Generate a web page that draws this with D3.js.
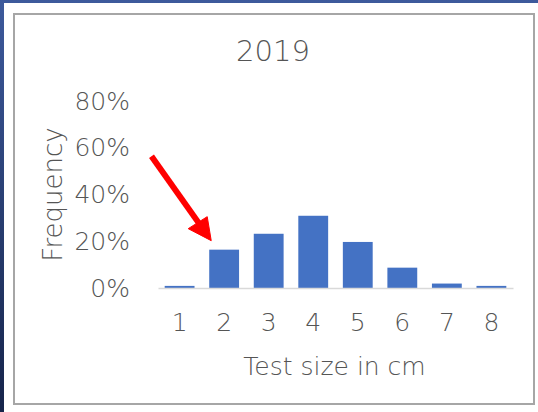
<!DOCTYPE html>
<html>
<head>
<meta charset="utf-8">
<script src="https://cdn.jsdelivr.net/npm/d3@7"></script>
<style>
	html, body { margin: 0; padding: 0; background: #2b4a8a; }
	svg { display: block; }
	text { font-family: 'DejaVu Sans', Lato, sans-serif; font-weight: 300; fill: #555; }
</style>
</head>
<body>
<div id="chart"></div>
<script>
const sizes = ['1', '2', '3', '4', '5', '6', '7', '8']
const frequency = [0.009, 0.164, 0.232, 0.309, 0.197, 0.087, 0.019, 0.009]
const yTicks = [0, 0.2, 0.4, 0.6, 0.8]
const title = '2019'

const width = 538
const height = 412
const margin = { top: 101, right: 25, bottom: 124, left: 158 }

const svg = d3.select('#chart')
	.append('svg')
	.attr('width', width)
	.attr('height', height)

// background picture edge + white plate
const defs = svg.append('defs')
const grad = defs.append('linearGradient')
	.attr('id', 'bg')
	.attr('x1', 0).attr('y1', 0).attr('x2', 0).attr('y2', 1)
grad.append('stop').attr('offset', '0%').attr('stop-color', '#3d5a9c')
grad.append('stop').attr('offset', '100%').attr('stop-color', '#16244a')

svg.append('rect')
	.attr('width', width)
	.attr('height', height)
	.attr('fill', 'url(#bg)')

svg.append('rect')
	.attr('x', 4)
	.attr('y', 3)
	.attr('width', width - 4)
	.attr('height', height - 3)
	.attr('fill', '#fff')

svg.append('rect')
	.attr('x', 14)
	.attr('y', 14)
	.attr('width', 520)
	.attr('height', 390)
	.attr('fill', 'none')
	.attr('stroke', '#a6a6a6')
	.attr('stroke-width', 2)

const chartWidth = width - margin.left - margin.right
const chartHeight = height - margin.top - margin.bottom

const x = d3.scaleBand()
	.domain(sizes)
	.range([margin.left, margin.left + chartWidth])
	.paddingInner(0.33)
	.paddingOuter(0.15)

const y = d3.scaleLinear()
	.domain([0, 0.8])
	.range([margin.top + chartHeight, margin.top])

// title
svg.append('text')
	.attr('x', 273)
	.attr('y', 61)
	.attr('text-anchor', 'middle')
	.style('font-size', '29px')
	.text(title)

// y axis labels
const yAxis = svg.append('g')
	.attr('transform', `translate(${margin.left - 28},0)`)
	.call(d3.axisLeft(y).tickValues(yTicks).tickFormat(d3.format('.0%')).tickSize(0).tickPadding(0))
yAxis.select('.domain').remove()
yAxis.selectAll('text')
	.style('font-size', '25px')
	.attr('fill', null)

// bars
svg.append('g')
	.selectAll('rect')
	.data(frequency)
	.join('rect')
	.attr('x', (d, i) => x(sizes[i]))
	.attr('y', d => y(d))
	.attr('width', x.bandwidth())
	.attr('height', d => y(0) - y(d))
	.attr('fill', '#4472c4')

// x axis
const xAxis = svg.append('g')
	.attr('transform', `translate(0,${y(0)})`)
	.call(d3.axisBottom(x).tickSize(0).tickPadding(25))
xAxis.select('.domain')
	.attr('stroke', '#d9d9d9')
	.attr('stroke-width', 1.5)
xAxis.selectAll('text')
	.style('font-size', '25px')
	.attr('fill', null)

// axis titles
svg.append('text')
	.attr('x', margin.left + chartWidth / 2 - 1)
	.attr('y', 375)
	.attr('text-anchor', 'middle')
	.style('font-size', '25px')
	.text('Test size in cm')

svg.append('text')
	.attr('transform', `translate(62,${y(0.4)}) rotate(-90)`)
	.attr('text-anchor', 'middle')
	.style('font-size', '26px')
	.text('Frequency')

// red arrow pointing at the size-2 bar
const tipX = x('2') + 2
const tipY = y(frequency[1]) - 9
const arrow = svg.append('g').attr('fill', '#ff0000').attr('stroke', '#ff0000')
arrow.append('line')
	.attr('x1', tipX - 58)
	.attr('y1', tipY - 82)
	.attr('x2', tipX - 12)
	.attr('y2', tipY - 17)
	.attr('stroke-width', 6)
	.attr('stroke-linecap', 'square')
arrow.append('path')
	.attr('d', `M${tipX},${tipY} L${tipX - 23},${tipY - 12} L${tipX - 4},${tipY - 24} Z`)
	.attr('stroke-width', 1)
</script>
</body>
</html>
